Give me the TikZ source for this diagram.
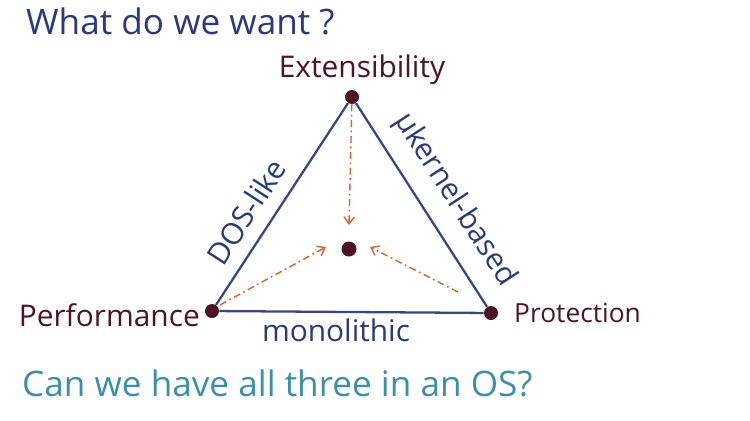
\documentclass[tikz,border=0pt]{standalone}
\usepackage{fontspec}
\setmainfont{Open Sans}
\usetikzlibrary{arrows.meta}
\definecolor{inkblue}{HTML}{2B3A7E}
\definecolor{edgeblue}{HTML}{34468C}
\definecolor{maroon}{HTML}{4E1424}
\definecolor{rust}{HTML}{D4642A}
\definecolor{teal}{HTML}{3A8FA9}
\tikzset{
	vertex/.style={circle, fill=maroon, inner sep=0pt, minimum size=0.28cm},
	vlabel/.style={text=maroon, font=\fontsize{17}{20}\selectfont},
	elabel/.style={text=inkblue, font=\fontsize{17}{20}\selectfont},
	side/.style={draw=edgeblue, line width=1.3pt},
	pull/.style={draw=rust, line width=0.8pt, dash pattern=on 4pt off 2pt on 1pt off 2pt, -{Straight Barb[length=4pt,width=6pt]}}
}

\begin{document}
\begin{tikzpicture}[x=0.02cm, y=-0.02cm]
		%%%%% START %%%%%
		\useasboundingbox (0, 0) rectangle (750, 420);
		
		\node[text=inkblue, font=\fontsize{20}{24}\selectfont, anchor=west] (want) at (20, 21) {What do we want ?};
		
		\node[vertex] (ext) at (352, 97) {};
		\node[vertex] (perf) at (212, 311) {};
		\node[vertex] (prot) at (491, 313) {};
		\node[vertex, minimum size=0.3cm] (mid) at (349, 249) {};
		
		\draw[side] (ext) -- (perf) -- (prot) -- (ext);
		
		\node[vlabel] (extlbl) at (362, 70) {Extensibility};
		\node[vlabel, anchor=east] (perflbl) at (206, 315) {Performance};
		\node[vlabel, font=\fontsize{15}{18}\selectfont, anchor=west] (protlbl) at (508, 313) {Protection};
		
		\node[elabel, rotate=57] (dos) at (246, 212) {DOS-like};
		\node[elabel, rotate=-57] (ukern) at (455, 200) {µkernel-based};
		\node[elabel] (mono) at (336, 330) {monolithic};
		
		\coordinate (exthead) at (349, 225);
		\coordinate (perftail) at (220, 305);
		\coordinate (perfhead) at (326, 247);
		\coordinate (prottail) at (458, 292);
		\coordinate (prothead) at (370, 247);
		\draw[pull] (ext) -- (exthead);
		\draw[pull] (perftail) -- (perfhead);
		\draw[pull] (prottail) -- (prothead);
		
		\node[text=teal, font=\fontsize{20}{24}\selectfont, anchor=west] (ask) at (16, 383) {Can we have all three in an OS?};
		
		%%%%% END %%%%%
	\end{tikzpicture}
\end{document}
